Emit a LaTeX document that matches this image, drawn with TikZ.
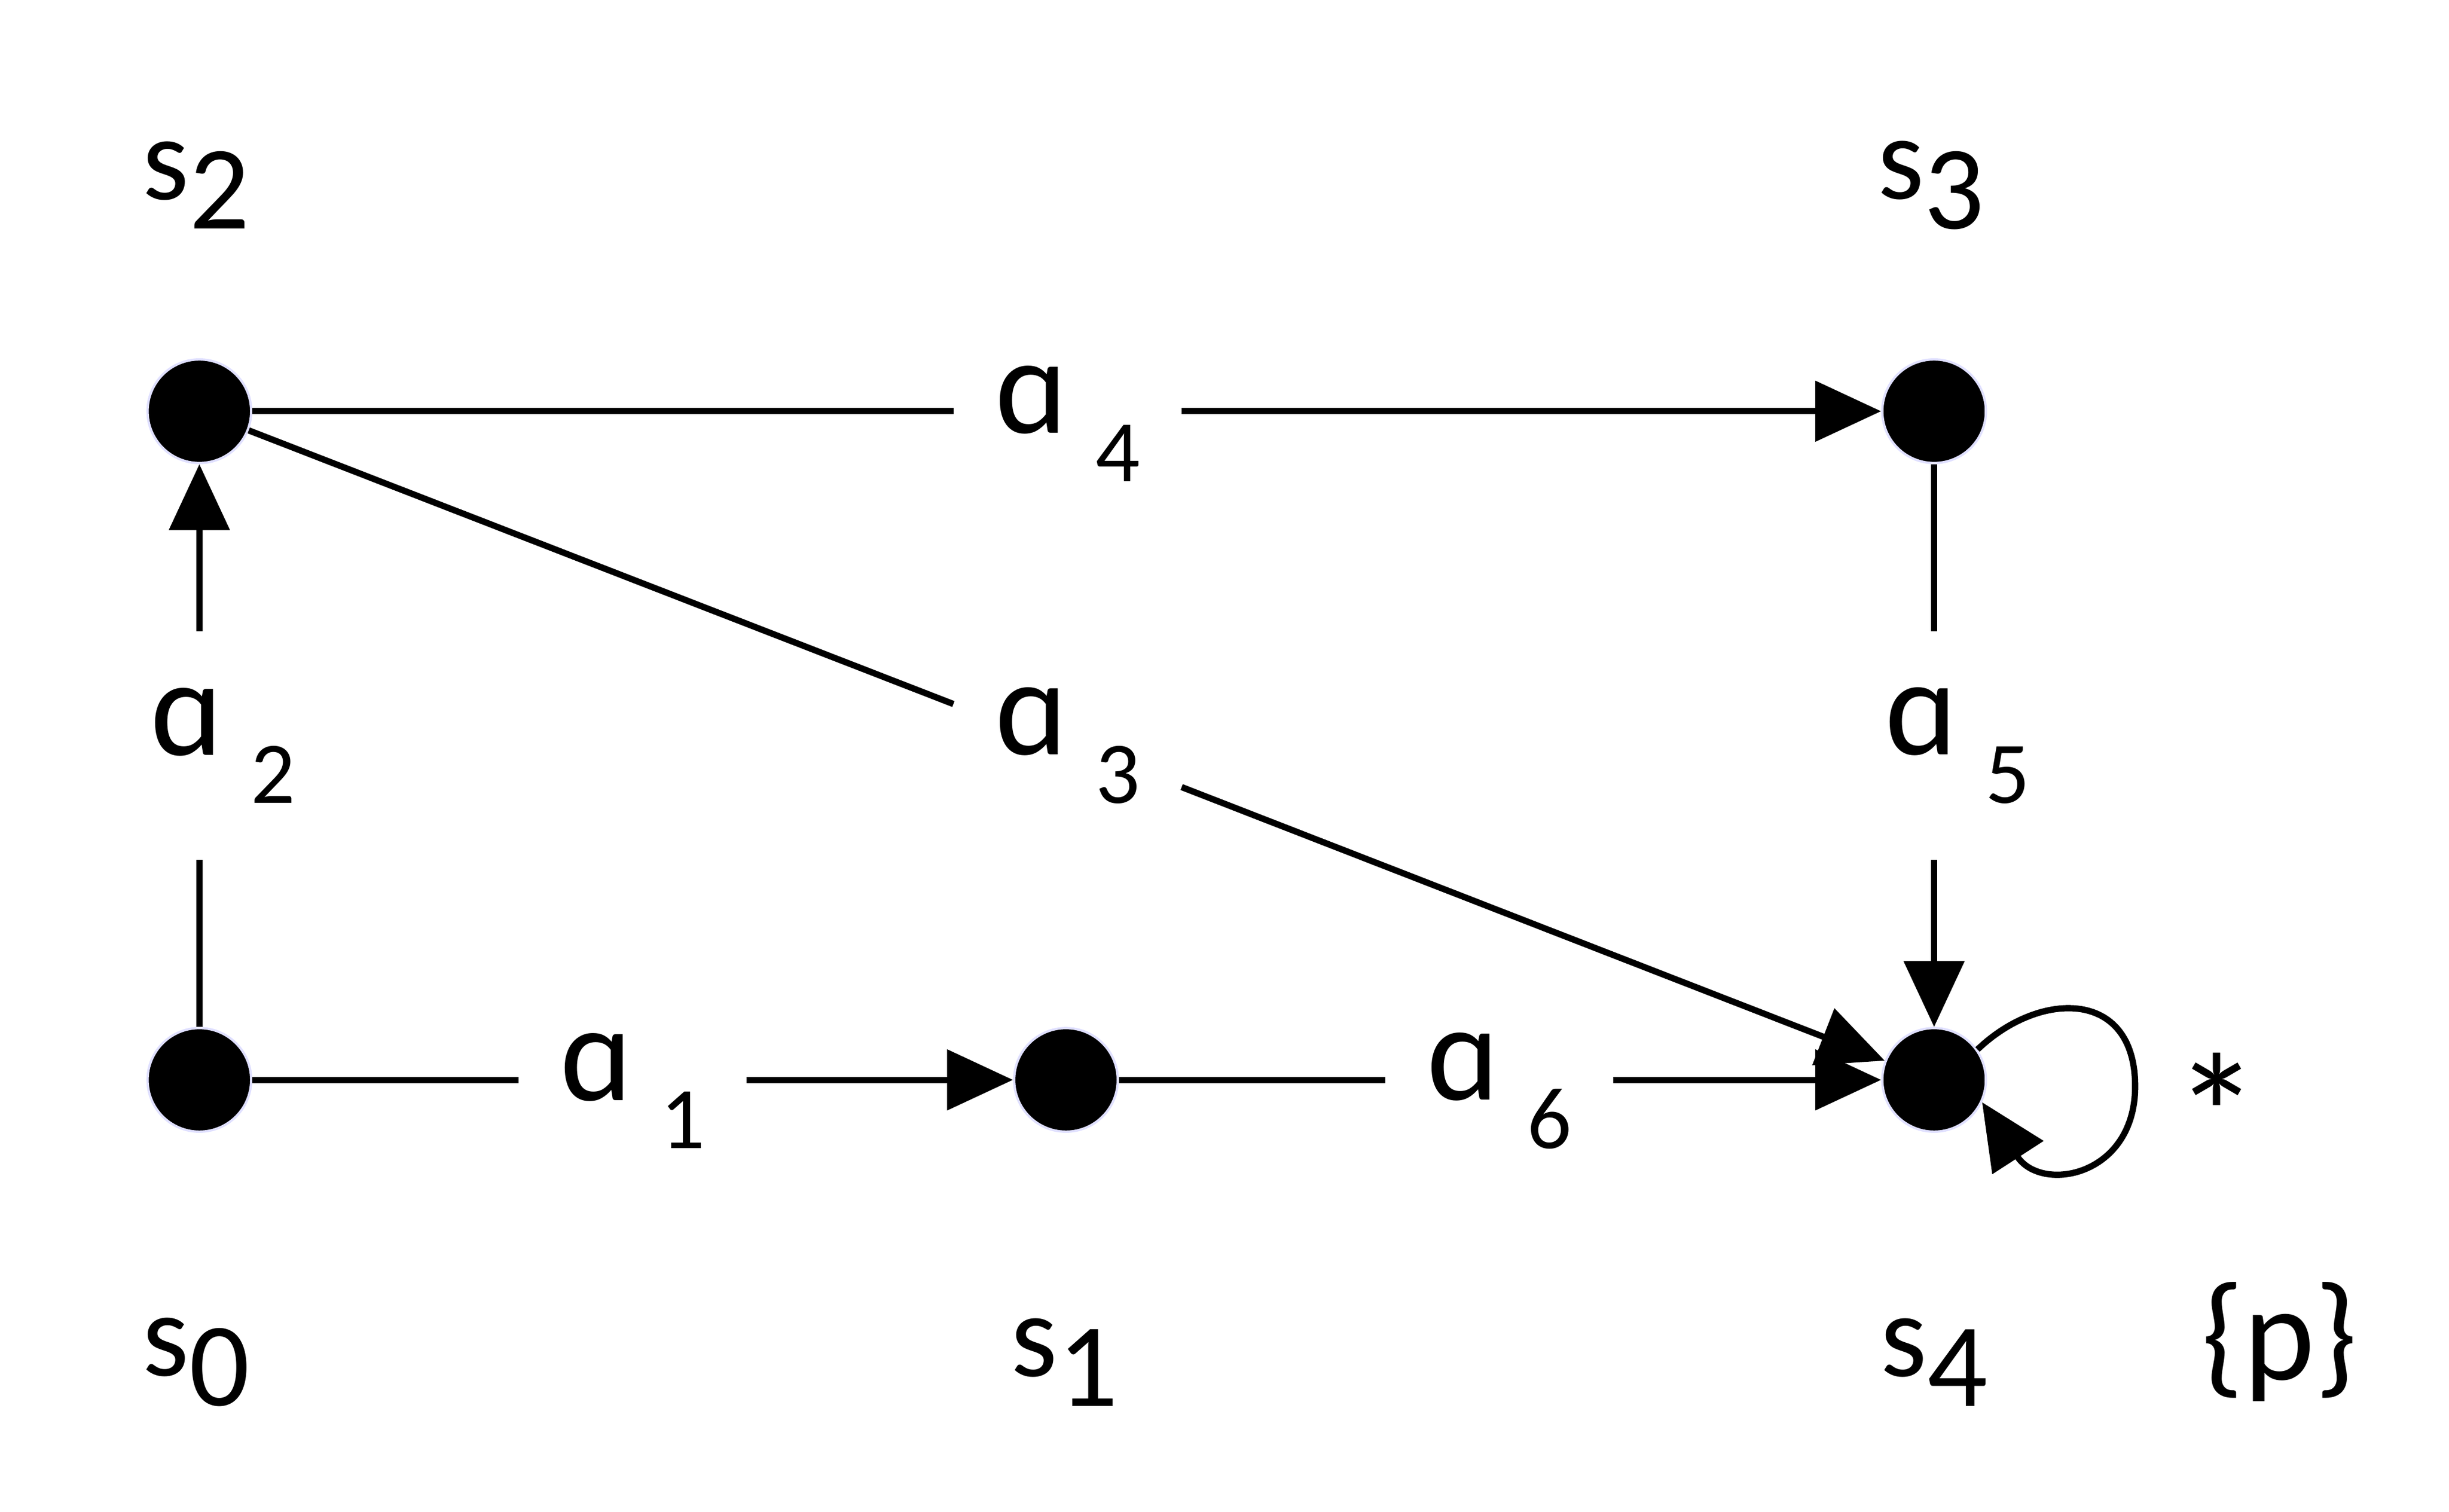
\documentclass[tikz,border=0pt]{standalone}
\usepackage{fontspec}
\setmainfont{Carlito}
\usetikzlibrary{arrows.meta}
\begin{document}
\begin{tikzpicture}[x=1pt,y=-1pt,
  dot/.style={circle,fill=black,draw=blue!12,line width=1.5pt,minimum size=66pt,inner sep=0pt},
  lbl/.style={font=\fontsize{76}{80}\selectfont,inner sep=0pt},
  elbl/.style={font=\fontsize{88}{90}\selectfont,minimum width=145pt,minimum height=145pt,inner sep=0pt},
  edge/.style={line width=4pt},
  arr/.style={edge,-{Triangle[length=42pt,width=38pt]}}]
\useasboundingbox (0,0) rectangle (1560,963);
\newcommand{\lab}[2]{\raisebox{-0.12em}{#1\hspace{0.2em}\raisebox{-0.35em}{\fontsize{56}{60}\selectfont #2}}}
\node[dot] (s0) at (127,688) {};
\node[dot] (s1) at (679,688) {};
\node[dot] (s4) at (1232,688) {};
\node[dot] (s2) at (127,262) {};
\node[dot] (s3) at (1232,262) {};
\node[lbl] (t2) at (125,118) {s\raisebox{-0.25em}{2}};
\node[lbl] (t3) at (1230,118) {s\raisebox{-0.25em}{3}};
\node[lbl] (t0) at (125,868) {s\raisebox{-0.25em}{0}};
\node[lbl] (t1) at (678,868) {s\raisebox{-0.25em}{1}};
\node[lbl] (t4) at (1232,868) {s\raisebox{-0.25em}{4}};
\node[lbl,font=\fontsize{86}{90}\selectfont] (tp) at (1452,855) {\{p\}};
\node[lbl,font=\fontsize{110}{110}\selectfont] (st) at (1412,710) {*};
\node[elbl] (a1) at (403,695) {\lab{ɑ}{1}};
\node[elbl] (a6) at (955,695) {\lab{ɑ}{6}};
\node[elbl] (a4) at (680,270) {\lab{ɑ}{4}};
\node[elbl] (a2) at (127,475) {\hspace{30pt}\lab{ɑ}{2}};
\node[elbl] (a3) at (680,475) {\lab{ɑ}{3}};
\node[elbl] (a5) at (1232,475) {\hspace{30pt}\lab{ɑ}{5}};
\draw[edge] (s0) -- (s0 -| a1.west);
\draw[arr] (s1 -| a1.east) -- (s1);
\draw[edge] (s1) -- (s1 -| a6.west);
\draw[arr] (s4 -| a6.east) -- (s4);
\draw[edge] (s2) -- (s2 -| a4.west);
\draw[arr] (s3 -| a4.east) -- (s3);
\draw[edge] (s0) -- (a2.south);
\draw[arr] (a2.north) -- (s2);
\draw[edge] (s3) -- (a5.north);
\draw[arr] (a5.south) -- (s4);
\draw[edge] (a3.160) -- (s2);
\draw[arr] (a3.-20) -- (s4);
\draw[arr] (s4.35) .. controls (1300,630) and (1362,630) .. (1360,695) .. controls (1358,750) and (1300,760) .. (s4.-25);
\end{tikzpicture}
\end{document}
